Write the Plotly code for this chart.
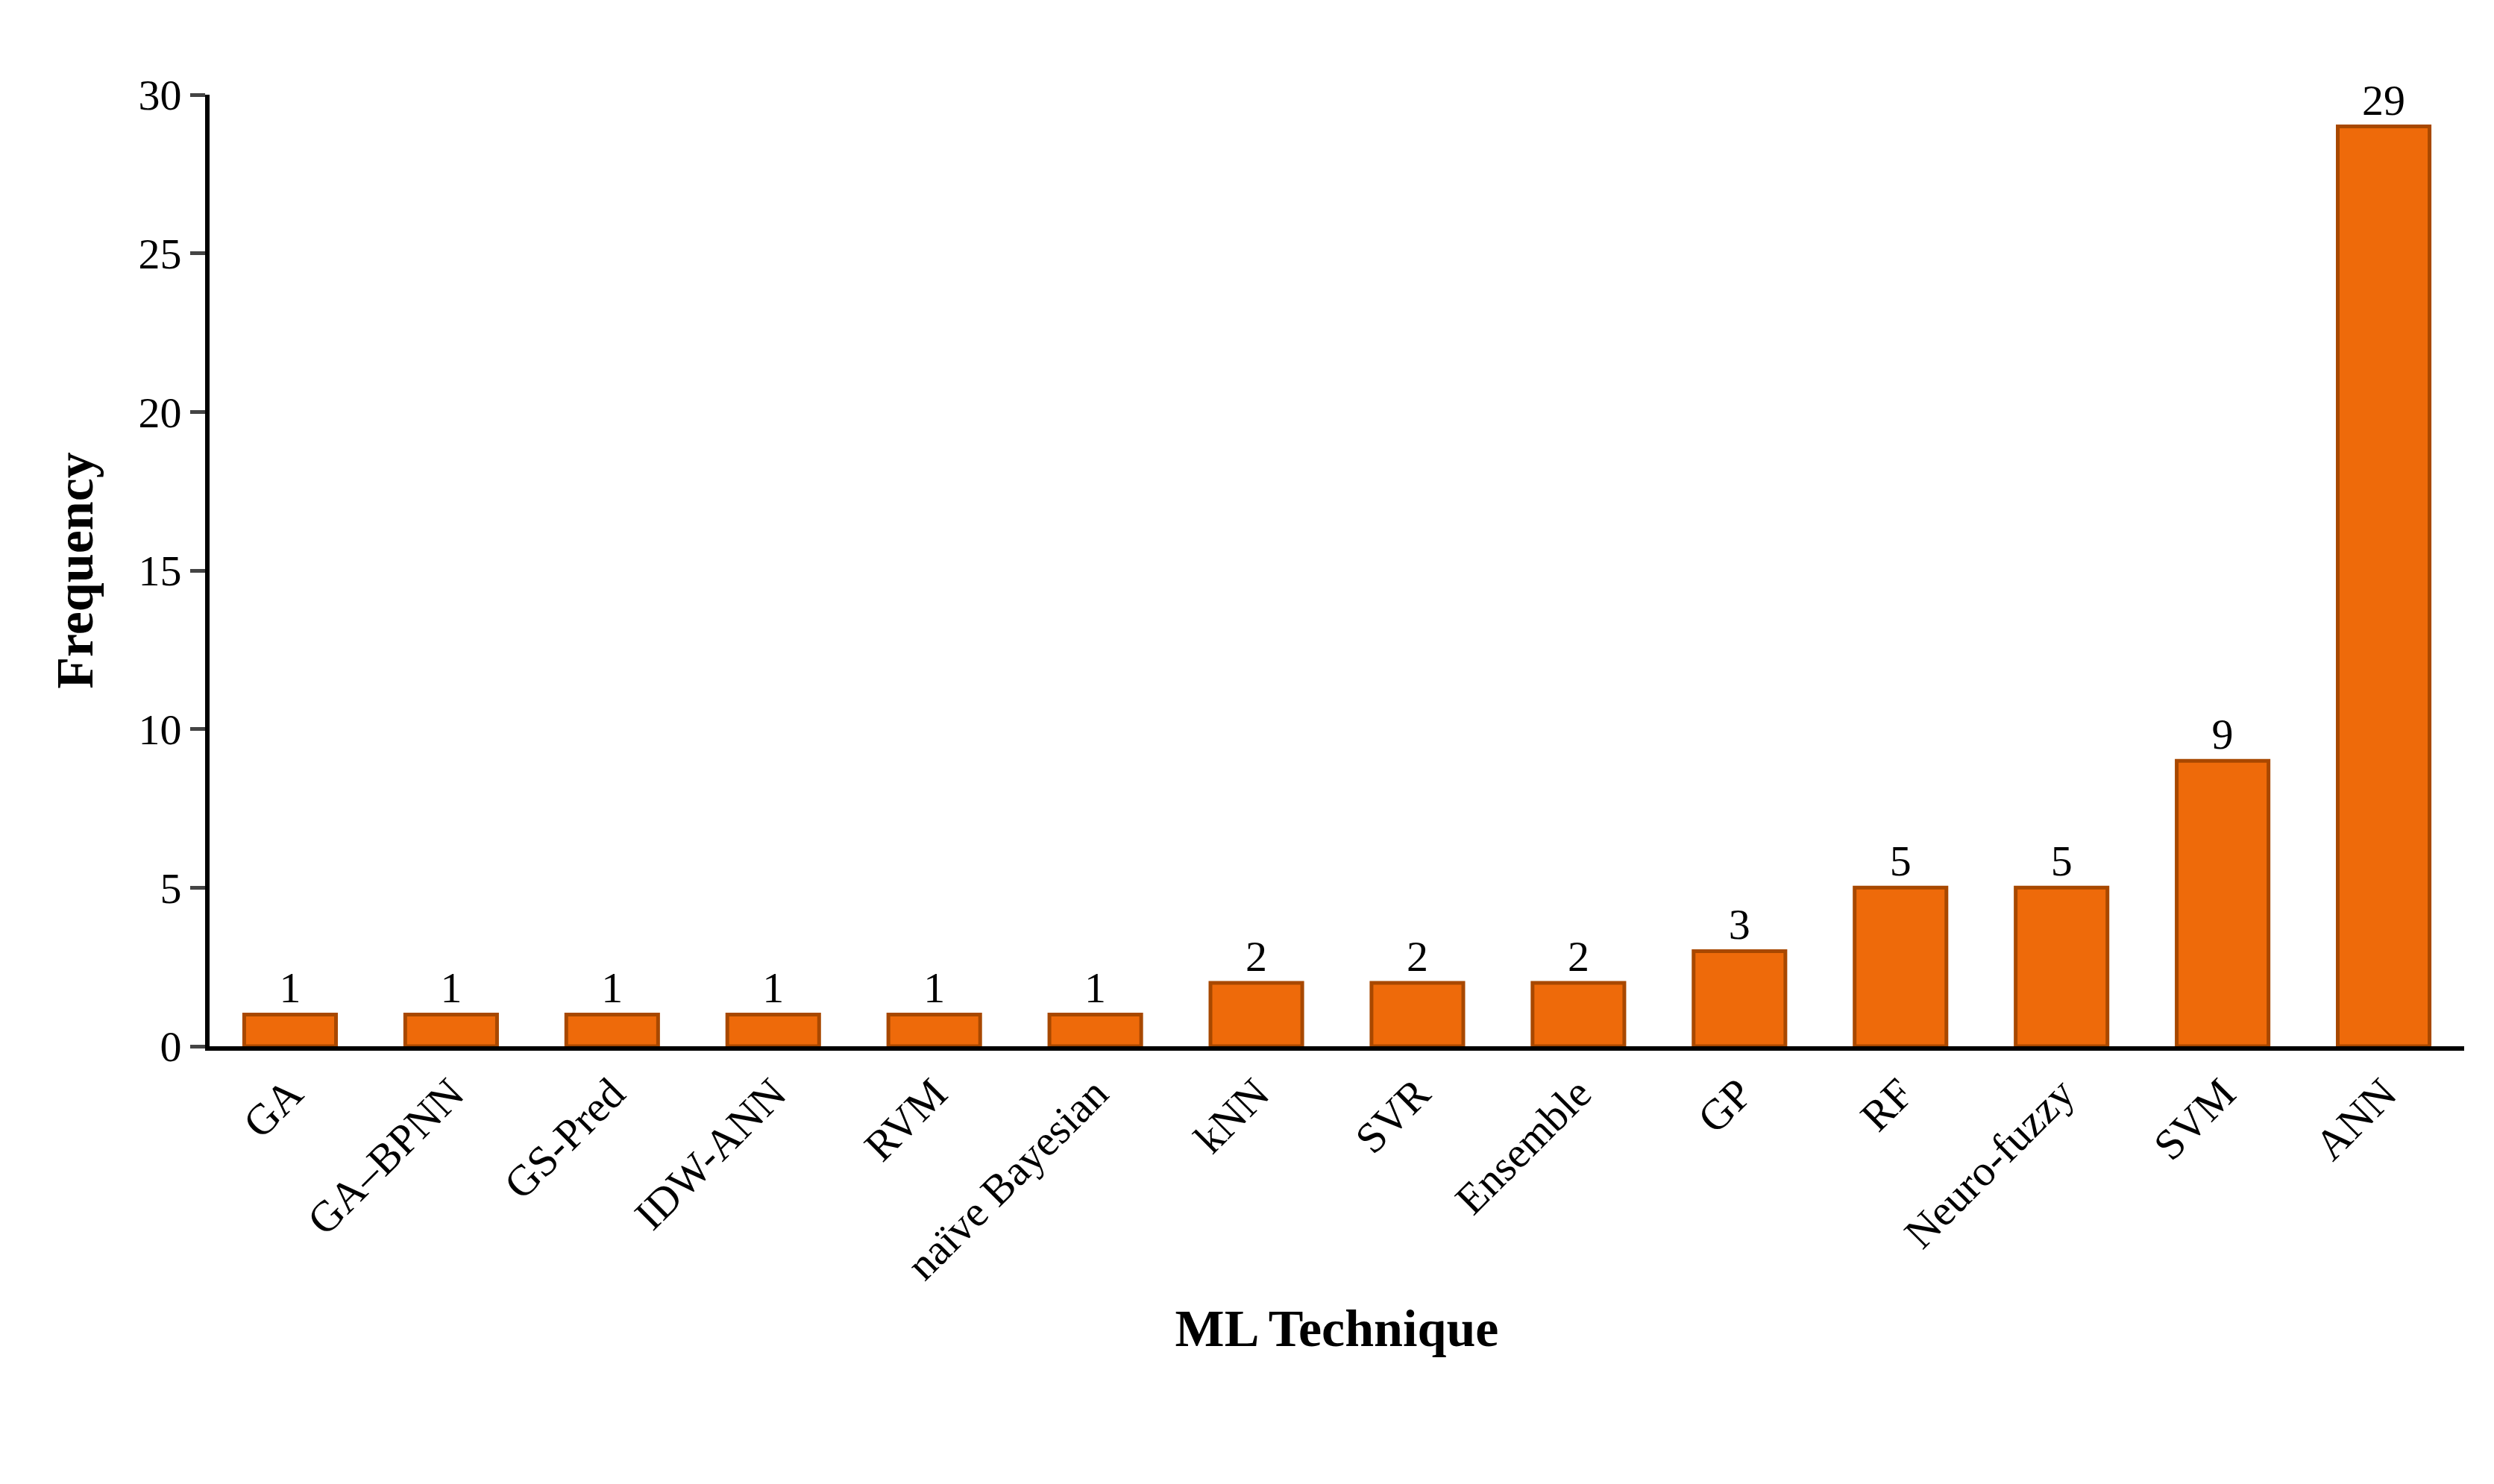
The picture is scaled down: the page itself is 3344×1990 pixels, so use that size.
import plotly.graph_objects as go

categories = ["GA", "GA–BPNN", "GS-Pred", "IDW-ANN", "RVM", "naïve Bayesian", "kNN", "SVR",
              "Ensemble", "GP", "RF", "Neuro-fuzzy", "SVM", "ANN"]
frequency = [1, 1, 1, 1, 1, 1, 2, 2, 2, 3, 5, 5, 9, 29]
y_ticks = [0, 5, 10, 15, 20, 25, 30]

font = "Liberation Serif"
fig = go.Figure(go.Bar(
    x=categories, y=frequency, text=[str(v) for v in frequency],
    textposition="outside", cliponaxis=False,
    textfont=dict(family=font, size=58, color="black"),
    marker=dict(color="#EE6A0A", line=dict(color="#A84800", width=5)),
))
fig.update_layout(
    width=3344, height=1990, plot_bgcolor="white", paper_bgcolor="white",
    margin=dict(l=273, r=48, t=119, b=595), bargap=0.43, showlegend=False,
    font=dict(family=font, size=58, color="black"),
)
fig.update_xaxes(type="category", range=[-0.5, 13.5], showline=True, linewidth=6, linecolor="black",
                 ticks="", tickangle=-45, tickfont=dict(size=58),
                 title=dict(text="<b>ML Technique</b>", font=dict(size=70), standoff=30))
fig.update_yaxes(range=[0, 30], tickvals=y_ticks, showline=True, linewidth=6, linecolor="black",
                 ticks="outside", ticklen=20, tickwidth=5, showgrid=False, zeroline=False,
                 tickfont=dict(size=58),
                 title=dict(text="<b>Frequency</b>", font=dict(size=70), standoff=40))
fig.write_html("out.html")
